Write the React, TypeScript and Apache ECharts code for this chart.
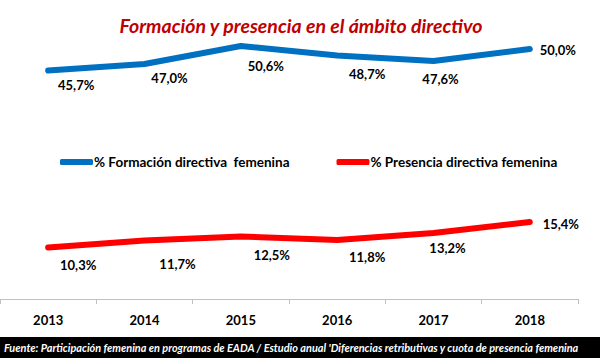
import React, { useEffect, useRef } from "react";
import * as echarts from "echarts";

const years = ["2013", "2014", "2015", "2016", "2017", "2018"];
const formacion = [45.7, 47.0, 50.6, 48.7, 47.6, 50.0];
const presencia = [10.3, 11.7, 12.5, 11.8, 13.2, 15.4];
const formacionName = "% Formación directiva  femenina";
const presenciaName = "% Presencia directiva femenina";
const titleText = "Formación y presencia en el ámbito directivo";
const sourceText =
  "Fuente: Participación femenina en programas de EADA / Estudio anual 'Diferencias retributivas y cuota de presencia femenina";

const formacionOffsets = [[28, 14], [25, 14], [25, 20], [30, 18], [7, 18], [28, 1]];
const presenciaOffsets = [[30, 17], [33, 23], [31, 18], [30, 17], [14, 15], [31, 2]];

const fmt = (v: number) => v.toFixed(1).replace(".", ",") + "%";

export default function App() {
  const ref = useRef<HTMLDivElement>(null);
  useEffect(() => {
    if (!ref.current) return;
    const chart = echarts.init(ref.current, undefined, { renderer: "svg" });
    const font = "Lato";
    const mk = (vals: number[], offs: number[][]) =>
      vals.map((v, i) => ({
        value: v,
        label: { offset: offs[i] },
      }));
    chart.setOption({
      animation: false,
      backgroundColor: "#ffffff",
      title: {
        text: titleText,
        left: 296,
        textAlign: "center",
        top: 10,
        textStyle: {
          fontFamily: font,
          fontSize: 19.5,
          fontWeight: "bold",
          fontStyle: "italic",
          color: "#c00000",
        },
      },
      legend: {
        left: 55,
        top: 150,
        itemGap: 47,
        itemWidth: 33,
        itemHeight: 6,
        icon: "roundRect",
        textStyle: {
          fontFamily: font,
          fontSize: 13.5,
          fontWeight: "bold",
          color: "#000",
          padding: [0, 0, 0, -4],
        },
        data: [formacionName, presenciaName],
      },
      grid: { left: 0, right: 22, top: 24, bottom: 59, containLabel: false },
      xAxis: {
        type: "category",
        data: years,
        boundaryGap: true,
        axisLine: { lineStyle: { color: "#c0c0c0", width: 1 } },
        axisTick: { show: true, length: 5, lineStyle: { color: "#c0c0c0" } },
        axisLabel: {
          margin: 14,
          fontFamily: font,
          fontSize: 13,
          fontWeight: "bold",
          color: "#000",
        },
      },
      yAxis: {
        type: "value",
        min: 0,
        max: 55,
        show: false,
        splitLine: { show: false },
      },
      graphic: [
        {
          type: "rect",
          shape: { x: 0, y: 337, width: 600, height: 21 },
          style: { fill: "#000" },
        },
        {
          type: "text",
          x: 4,
          y: 347,
          style: {
            text: sourceText,
            fill: "#fff",
            font: "italic bold 10.9px Lato",
            verticalAlign: "middle",
          },
        },
      ],
      series: [
        {
          name: formacionName,
          type: "line",
          data: mk(formacion, formacionOffsets),
          symbol: "circle",
          symbolSize: 1,
          color: "#0070c0",
          lineStyle: { width: 6, color: "#0070c0", cap: "round", join: "round" },
          label: {
            show: true,
            position: "inside",
            formatter: (p: any) => fmt(p.value),
            fontFamily: font,
            fontSize: 13,
            fontWeight: "bold",
            color: "#000",
          },
        },
        {
          name: presenciaName,
          type: "line",
          data: mk(presencia, presenciaOffsets),
          symbol: "circle",
          symbolSize: 1,
          color: "#ff0000",
          lineStyle: { width: 6, color: "#ff0000", cap: "round", join: "round" },
          label: {
            show: true,
            position: "inside",
            formatter: (p: any) => fmt(p.value),
            fontFamily: font,
            fontSize: 13,
            fontWeight: "bold",
            color: "#000",
          },
        },
      ],
    });
    return () => chart.dispose();
  }, []);
  return (
    <div
      ref={ref}
      style={{ position: "absolute", left: 0, top: 0, width: 600, height: 358 }}
    />
  );
}
